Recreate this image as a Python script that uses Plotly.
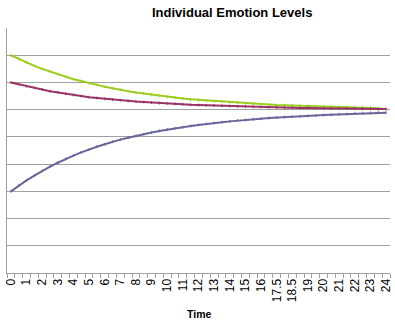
import plotly.graph_objects as go

# Time categories (x axis), labels shown on every other category
time_labels = ["0", "0.5", "1", "1.5", "2", "2.5", "3", "3.5", "4", "4.5",
               "5", "5.5", "6", "6.5", "7", "7.5", "8", "8.5", "9", "9.5",
               "10", "10.5", "11", "11.5", "12", "12.5", "13", "13.5", "14", "14.5",
               "15", "15.5", "16", "17", "17.5", "18", "18.5", "18.75", "19", "19.5",
               "20", "20.5", "21", "21.5", "22", "22.5", "23", "23.5", "24"]
shown_labels = ["0", "1", "2", "3", "4", "5", "6", "7", "8", "9", "10", "11", "12",
                "13", "14", "15", "16", "17.5", "18.5", "19", "20", "21", "22", "23", "24"]

green_level = [8.00, 7.86, 7.73, 7.61, 7.50, 7.40, 7.30, 7.21, 7.12, 7.05,
               6.97, 6.91, 6.84, 6.78, 6.73, 6.68, 6.63, 6.59, 6.55, 6.51,
               6.47, 6.44, 6.41, 6.38, 6.36, 6.33, 6.31, 6.29, 6.27, 6.25,
               6.23, 6.21, 6.20, 6.19, 6.17, 6.16, 6.15, 6.14, 6.13, 6.12,
               6.11, 6.10, 6.10, 6.09, 6.08, 6.08, 6.07, 6.05, 6.02]
red_level = [7.00, 6.93, 6.86, 6.80, 6.74, 6.68, 6.63, 6.58, 6.54, 6.50,
             6.46, 6.43, 6.40, 6.37, 6.35, 6.32, 6.30, 6.28, 6.26, 6.24,
             6.23, 6.21, 6.20, 6.18, 6.17, 6.16, 6.15, 6.14, 6.13, 6.12,
             6.11, 6.10, 6.09, 6.09, 6.08, 6.07, 6.07, 6.06, 6.06, 6.05,
             6.05, 6.04, 6.04, 6.04, 6.03, 6.03, 6.03, 6.02, 6.02]
blue_level = [3.00, 3.21, 3.40, 3.58, 3.75, 3.91, 4.05, 4.19, 4.31, 4.43,
              4.54, 4.64, 4.73, 4.82, 4.90, 4.97, 5.04, 5.10, 5.16, 5.22,
              5.27, 5.32, 5.36, 5.40, 5.44, 5.48, 5.51, 5.54, 5.57, 5.60,
              5.62, 5.65, 5.67, 5.69, 5.71, 5.73, 5.74, 5.76, 5.77, 5.79,
              5.80, 5.81, 5.83, 5.84, 5.86, 5.87, 5.88, 5.89, 5.89]

series = [
    ("Emotion A", green_level, "#9ACD1E"),
    ("Emotion B", red_level, "#993366"),
    ("Emotion C", blue_level, "#666699"),
]

fig = go.Figure()
for name, vals, col in series:
    fig.add_trace(go.Scatter(
        x=time_labels, y=vals, name=name, mode="lines+markers",
        line=dict(color=col, width=2),
        marker=dict(symbol="line-ns-open", size=2, line=dict(color=col, width=1)),
        showlegend=False,
    ))

ticktext = [t if t in shown_labels else "" for t in time_labels]

font_family = "Liberation Sans, Arial, sans-serif"

fig.update_layout(
    width=395, height=326,
    margin=dict(l=7, r=2, t=28, b=53),
    paper_bgcolor="white", plot_bgcolor="white",
    font=dict(family=font_family, color="black"),
    annotations=[
        dict(text="<b>Individual Emotion Levels</b>", xref="paper", yref="paper",
             x=(234 - 7) / 386, y=(326 - 13 - 53) / 245, xanchor="center", yanchor="middle",
             showarrow=False, font=dict(family=font_family, size=13, color="black")),
        dict(text="<b>Time</b>", xref="paper", yref="paper",
             x=(201 - 7) / 386, y=(326 - 314 - 53) / 245, xanchor="center", yanchor="middle",
             showarrow=False, font=dict(family=font_family, size=10.5, color="black")),
    ],
)
fig.update_xaxes(
    type="category", range=[-0.5, len(time_labels) - 0.5],
    tickmode="array", tickvals=time_labels, ticktext=ticktext,
    tickson="boundaries", ticks="outside", ticklen=4, tickcolor="#A0A0A0",
    tickangle=-90, tickfont=dict(size=12, color="black"),
    showgrid=False, showline=True, linecolor="#A0A0A0", linewidth=1,
    zeroline=False,
)
fig.update_yaxes(
    range=[0, 9], dtick=1, showticklabels=False, ticks="",
    showgrid=True, gridcolor="#A0A0A0", gridwidth=1,
    showline=True, linecolor="#A0A0A0", linewidth=1, zeroline=False,
)

fig.write_html("out.html")
